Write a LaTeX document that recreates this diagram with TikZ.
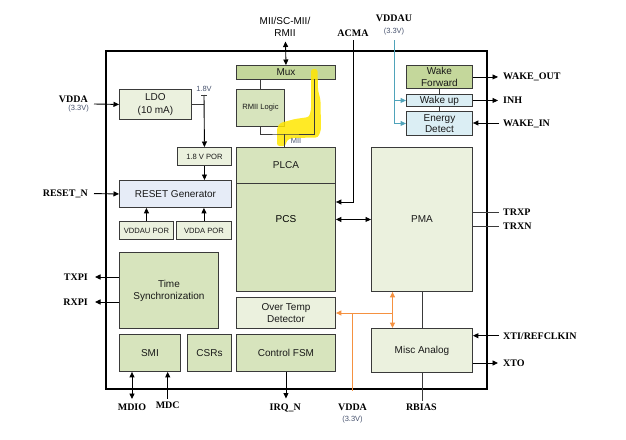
\documentclass[tikz,border=0pt]{standalone}
\usepackage{fontspec}
\setmainfont{Liberation Serif}
\setsansfont{Liberation Sans}
\usetikzlibrary{arrows.meta,calc}
\definecolor{dkg}{HTML}{C4D79B}
\definecolor{mdg}{HTML}{D7E4BD}
\definecolor{ltg}{HTML}{EBF1DE}
\definecolor{ltb}{HTML}{E6ECF7}
\definecolor{cyb}{HTML}{DBEEF4}
\definecolor{edge}{HTML}{3A3A3A}
\definecolor{org}{HTML}{F59140}
\definecolor{tea}{HTML}{4FA3BA}
\definecolor{hl}{HTML}{FFE600}
\definecolor{note}{HTML}{4A5570}
\begin{document}
\begin{tikzpicture}[x=1pt,y=-1pt,
  >={Triangle[length=5.5pt,width=5pt]},
  box/.style={draw=edge,line width=0.9pt,inner sep=0pt,align=center,anchor=north west,
    font=\sffamily\fontsize{10}{11.6}\selectfont,text=black!90},
  smallbox/.style={box,font=\sffamily\fontsize{7.6}{9}\selectfont},
  lab/.style={font=\rmfamily\bfseries\fontsize{10}{12}\selectfont,inner sep=0pt,text height=6.6pt,text depth=0pt},
  small/.style={font=\sffamily\fontsize{7.5}{9}\selectfont,text=note,inner sep=0pt},
  sanslab/.style={font=\sffamily\fontsize{10}{12}\selectfont,inner sep=0pt,align=center},
  ln/.style={draw=edge,line width=0.9pt},
  arl/.style={draw=black,line width=0.9pt},
  orl/.style={draw=org,line width=1pt},
  tl/.style={draw=tea,line width=1pt}
]
\useasboundingbox (0,0) rectangle (626,439);

% chip outline
\node[draw=black,line width=1.5pt,minimum width=381pt,minimum height=338pt,anchor=north west,inner sep=0pt] (chip) at (105,50) {};

% blocks
\node[box,fill=dkg,minimum width=99pt,minimum height=14pt] (mux) at (236,65) {Mux};
\node[smallbox,fill=mdg,minimum width=48pt,minimum height=37pt] (rmii) at (236,89) {RMII Logic};
\node[box,fill=mdg,minimum width=99pt,minimum height=36pt] (plca) at (236,147) {PLCA};
\node[box,fill=mdg,minimum width=99pt,minimum height=108pt] (pcs) at (236,183) {};
\node[sanslab] (pcstxt) at (pcs.center |- 0,219) {PCS};
\node[box,fill=ltg,minimum width=99pt,minimum height=31pt] (otd) at (236,297) {Over Temp\\Detector};
\node[box,fill=mdg,minimum width=99pt,minimum height=37pt] (fsm) at (236,334) {Control FSM};
\node[box,fill=mdg,minimum width=61pt,minimum height=37pt] (smi) at (119,334) {SMI};
\node[box,fill=mdg,minimum width=44pt,minimum height=37pt] (csr) at (187,334) {CSRs};
\node[box,fill=mdg,minimum width=99pt,minimum height=76pt,font=\sffamily\fontsize{10}{12}\selectfont] (ts) at (119,252) {Time\\Synchronization};
\node[smallbox,fill=ltg,minimum width=54pt,minimum height=18pt] (vupor) at (119,221) {VDDAU POR};
\node[smallbox,fill=ltg,minimum width=55pt,minimum height=18pt] (vpor) at (176,221) {VDDA POR};
\node[box,fill=ltb,minimum width=112pt,minimum height=27pt] (rst) at (119,180) {RESET Generator};
\node[smallbox,fill=ltg,minimum width=54pt,minimum height=18pt] (por18) at (177,147) {1.8 V POR};
\node[box,fill=ltg,minimum width=72pt,minimum height=30pt,font=\sffamily\fontsize{10}{13.3}\selectfont] (ldo) at (119,89) {LDO\\(10 mA)};
\node[box,fill=dkg,minimum width=66pt,minimum height=23pt] (wf) at (406,65) {Wake\\Forward};
\node[box,fill=cyb,minimum width=66pt,minimum height=12pt] (wu) at (406,94) {Wake up};
\node[box,fill=cyb,minimum width=66pt,minimum height=24pt] (ed) at (406,111) {Energy\\Detect};
\node[box,fill=ltg,minimum width=101pt,minimum height=144pt] (pma) at (371,147) {PMA};
\node[box,fill=ltg,minimum width=101pt,minimum height=44pt] (misc) at (371,328) {Misc Analog};

% highlighter stroke
\fill[hl,fill opacity=0.85,rounded corners=2.5pt]
  (311,69) -- (317.5,69) -- (318,90) -- (320.5,100) -- (321,130) -- (318,137.5)
  -- (292,138) -- (287,140) -- (285.5,146) -- (277,146) -- (277,128) -- (280,123)
  -- (295,119) -- (309,117) -- (311,110) -- cycle;

% MII / RMII wiring
\coordinate (mr) at (314,79);
\coordinate (miiJ) at (284,134);
\draw[ln] (mux.south -| rmii.north) -- (rmii.north);
\draw[ln] (rmii.south) |- (miiJ) -| (mr);
\draw[ln] (miiJ) -- (plca.north -| miiJ);
\node[small] (miilab) at (296,141) {MII};

% top interface
\node[sanslab] (miitxt) at (285,26.7) {MII/SC-MII/\\RMII};
\coordinate (miiT) at (285.5,41.5);
\draw[arl,<->] (miiT) -- (mux.north);

% ACMA
\node[lab] (acma) at (353,33) {ACMA};
\draw[arl,->,shorten <=3.5pt] (acma.south) |- (pcs.east |- 0,202);
\draw[arl,<->] (pcs.east |- pma.west) -- (pma.west);

% VDDA / LDO
\node[lab,anchor=east] (vddaL) at (88,99) {VDDA};
\node[small,anchor=east] (vddaLv) at (89,109) {(3.3V)};
\coordinate (vddaIn) at (94,104);
\draw[arl,->] (vddaIn) -- (ldo.west);
\coordinate (t18) at (204,95);
\draw[ln] (ldo.east) -- (ldo.east -| t18);
\draw[arl,->] (t18) -- (por18.north);
\draw[ln] ($(t18)+(-3,0)$) -- ($(t18)+(3,0)$);
\node[small] (v18) at (204,89) {1.8V};

% reset
\draw[arl,->] (por18.south) -- (rst.north -| por18.south);
\draw[arl,->] (vupor.north) -- (rst.south -| vupor.north);
\draw[arl,->] (vpor.north) -- (rst.south -| vpor.north);
\node[lab,anchor=east] (rstn) at (88,193.5) {RESET\_N};
\draw[arl,->,shorten <=6pt] (rstn.east) -- (rst.west);

% time sync
\node[lab,anchor=east] (txpi) at (88,277) {TXPI};
\node[lab,anchor=east] (rxpi) at (88,302) {RXPI};
\draw[arl,->,shorten >=7pt] (ts.west |- txpi.east) -- (txpi.east);
\draw[arl,->,shorten >=7pt] (ts.west |- rxpi.east) -- (rxpi.east);

% bottom
\node[lab] (mdio) at (132,407) {MDIO};
\node[lab] (mdc) at (167.7,405.5) {MDC};
\node[lab] (irq) at (285.3,407) {IRQ\_N};
\draw[arl,<->,shorten >=4.5pt] (smi.south -| mdio.north) -- (mdio.north);
\draw[arl,<-,shorten >=3.5pt] (smi.south -| mdc.north) -- (mdc.north);
\draw[arl,->,shorten >=5pt] (fsm.south) -- (irq.north -| fsm.south);

\node[lab] (vddaB) at (352.5,407) {VDDA};
\node[small] (vddaBv) at (352.5,419.5) {(3.3V)};
\coordinate (oj) at (392.5,313);
\draw[orl,<->] (pma.south -| oj) -- (misc.north -| oj);
\draw[orl,->] (oj) -- (otd.east |- oj);
\draw[orl,shorten <=13pt] (vddaB.north) -- (vddaB.north |- oj);

\node[lab] (rbias) at (421.3,407) {RBIAS};
\draw[ln] (pma.south) -- (misc.north);
\draw[ln,shorten >=3pt] (misc.south) -- (rbias.north -| misc.south);

% wake
\node[lab] (vddau) at (394,18.3) {VDDAU};
\node[small] (vddauv) at (394,32) {(3.3V)};
\coordinate (vt) at (394.3,40);
\draw[tl,->] (vt) |- (wu.west);
\draw[tl,->] (vt) |- (ed.west);
\draw[ln] (wf.south) -- (wu.north);
\draw[ln] (wu.south) -- (ed.north);

% right side
\node[lab,anchor=west] (wout) at (503,76.5) {WAKE\_OUT};
\node[lab,anchor=west] (inh) at (503,100) {INH};
\node[lab,anchor=west] (win) at (503,123) {WAKE\_IN};
\node[lab,anchor=west] (trxp) at (503,212.3) {TRXP};
\node[lab,anchor=west] (trxn) at (503,226.3) {TRXN};
\node[lab,anchor=west] (xti) at (503,335.7) {XTI/REFCLKIN};
\node[lab,anchor=west] (xto) at (503,363) {XTO};
\draw[arl,->,shorten >=5pt] (wf.east) -- (wout.west |- wf.east);
\draw[arl,->,shorten >=5pt] (wu.east) -- (inh.west |- wu.east);
\draw[arl,->,shorten <=4pt] (win.west) -- (ed.east |- win.west);
\draw[ln,shorten >=4pt] (pma.east |- trxp.west) -- (trxp.west);
\draw[ln,shorten >=4pt] (pma.east |- trxn.west) -- (trxn.west);
\draw[arl,->,shorten <=4pt] (xti.west) -- (misc.east |- xti.west);
\draw[arl,->,shorten >=5pt] (misc.east |- xto.west) -- (xto.west);
\end{tikzpicture}
\end{document}
